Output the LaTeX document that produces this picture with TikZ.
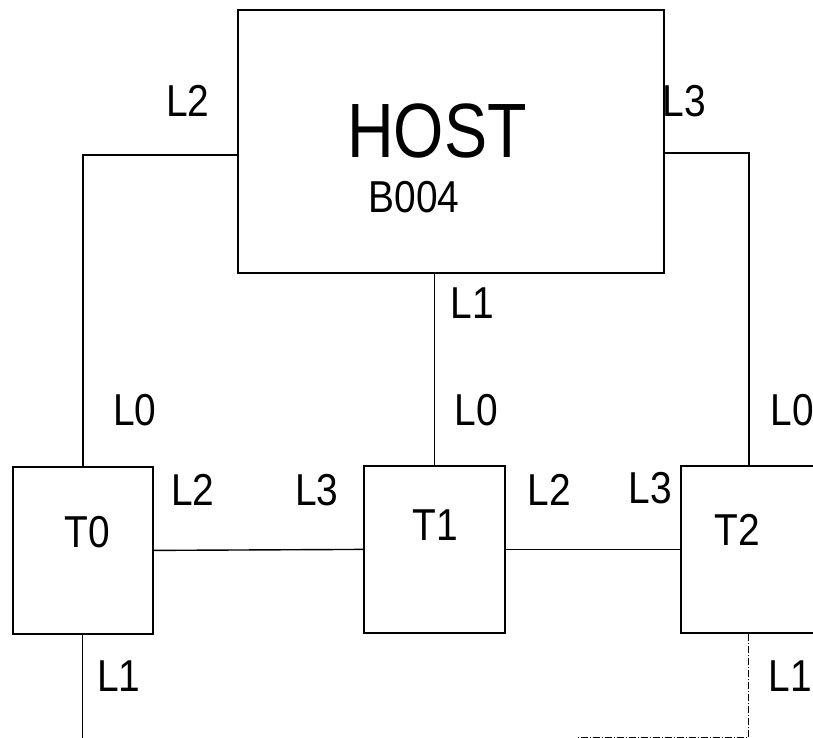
\documentclass[tikz,border=0pt]{standalone}
\usepackage{fontspec}
\newfontfamily\plotfont[FakeStretch=0.87]{Liberation Sans}
\newfontfamily\plotfontwide[FakeStretch=0.84]{Liberation Sans}
\begin{document}
\begin{tikzpicture}[x=1pt,y=-1pt,
  box/.style={draw,line width=1.8pt,inner sep=0pt,anchor=north west},
  wire/.style={line width=1.4pt},
  faint/.style={line width=1pt,dash pattern=on 7pt off 2pt on 1pt off 2pt},
  lbl/.style={inner sep=0pt,text height=32pt,text depth=0pt,font=\plotfont\fontsize{44.7}{48}\selectfont},
  big/.style={inner sep=0pt,text height=55pt,text depth=0pt,font=\plotfontwide\fontsize{77}{80}\selectfont}]
\clip (0,0) rectangle (813,738);
\fill[white] (0,0) rectangle (813,738);
% boxes
\node[box,minimum width=426pt,minimum height=263pt] (host) at (237,9) {};
\node[box,minimum width=140pt,minimum height=167pt] (t0) at (12,466) {};
\node[box,minimum width=141pt,minimum height=167pt] (t1) at (363,465) {};
\node[box,minimum width=136pt,minimum height=167pt] (t2) at (680,465) {};
% box texts
\node[big] (hosttxt) at (437,130) {HOST};
\node[lbl] (btxt) at (414,196) {B004};
\node[lbl] (t0txt) at (87,531) {T0};
\node[lbl] (t1txt) at (435,524) {T1};
\node[lbl] (t2txt) at (737,529) {T2};
% connectors
\coordinate (hl) at (237,155);
\coordinate (hr) at (663,153);
\draw[wire] (hl) -| (t0.north);
\draw[wire] (hr) -| (t2.north);
\draw[wire] (t1.north) -- (t1.north |- host.south);
\draw[wire] (t0.east) -- (t1.west);
\draw[wire] (t1.east) -- (t2.west);
\coordinate (t0end) at (t0.south |- 0,740);
\draw[line width=1pt] (t0.south) -- (t0end);
\coordinate (t2corner) at (t2.south |- 0,737);
\coordinate (t2end) at (578,737);
\draw[faint] (t2.south) -- (t2corner) -- (t2end);
% link labels
\node[lbl] (la) at (188,101) {L2};
\node[lbl] (lb) at (684,101) {L3};
\node[lbl] (lc) at (472,302) {L1};
\node[lbl] (ld) at (135,409) {L0};
\node[lbl] (le) at (476,409) {L0};
\node[lbl] (lf) at (792,409) {L0};
\node[lbl] (lg) at (193,489) {L2};
\node[lbl] (lh) at (317,489) {L3};
\node[lbl] (li) at (549,489) {L2};
\node[lbl] (lj) at (650,487) {L3};
\node[lbl] (lk) at (119,675) {L1};
\node[lbl] (ll) at (790,675) {L1};
\end{tikzpicture}
\end{document}
